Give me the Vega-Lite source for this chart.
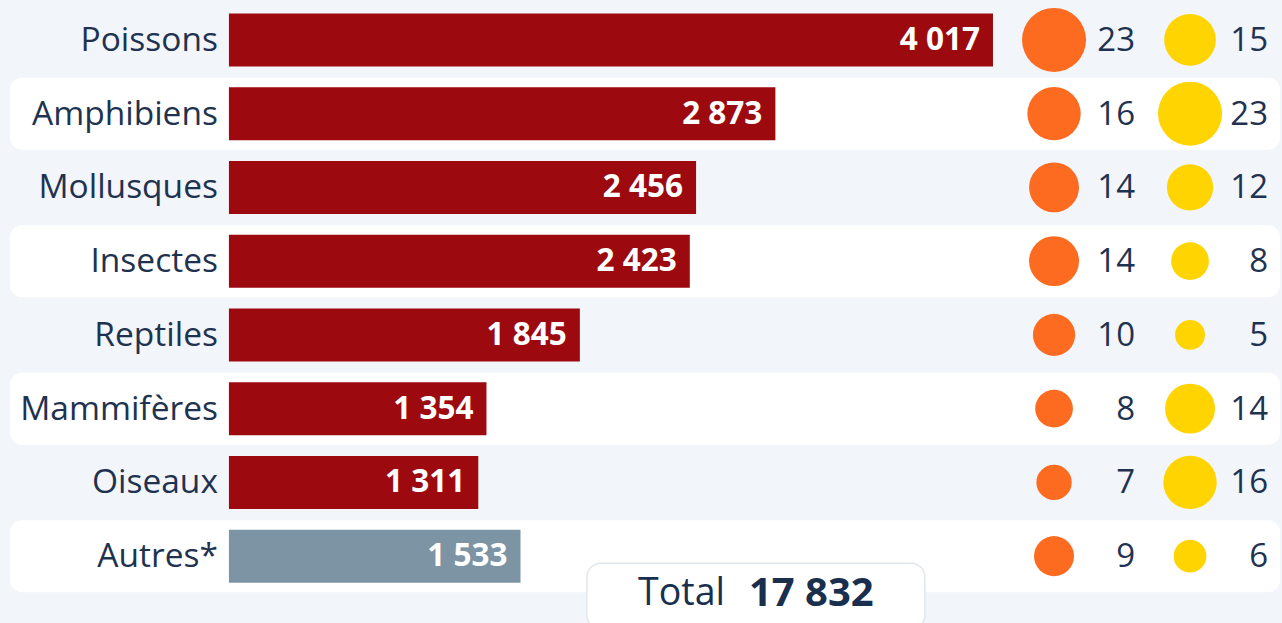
{
  "$schema": "https://vega.github.io/schema/vega-lite/v6.json",
  "autosize": {"type": "none"},
  "width": 1270,
  "height": 590,
  "padding": {"left": 10, "top": 3, "right": 2, "bottom": 30},
  "background": "#f2f5f9",
  "config": {
    "view": {"stroke": null},
    "text": {"font": "Open Sans"},
    "locale": {"number": {"decimal": ",", "thousands": " ", "grouping": [3], "currency": ["", " €"]}}
  },
  "data": {
    "values": [
      {"cat": "Poissons", "total": 4017, "v1": 23, "v2": 15},
      {"cat": "Amphibiens", "total": 2873, "v1": 16, "v2": 23},
      {"cat": "Mollusques", "total": 2456, "v1": 14, "v2": 12},
      {"cat": "Insectes", "total": 2423, "v1": 14, "v2": 8},
      {"cat": "Reptiles", "total": 1845, "v1": 10, "v2": 5},
      {"cat": "Mammifères", "total": 1354, "v1": 8, "v2": 14},
      {"cat": "Oiseaux", "total": 1311, "v1": 7, "v2": 16},
      {"cat": "Autres*", "total": 1533, "v1": 9, "v2": 6}
    ]
  },
  "encoding": {
    "y": {
      "field": "cat",
      "type": "nominal",
      "axis": null,
      "scale": {
        "domain": ["Poissons", "Amphibiens", "Mollusques", "Insectes", "Reptiles", "Mammifères", "Oiseaux", "Autres*"],
        "paddingInner": 0,
        "paddingOuter": 0
      }
    }
  },
  "layer": [
    {
      "transform": [{"filter": {"field": "cat", "oneOf": ["Amphibiens", "Insectes", "Mammifères", "Autres*"]}}],
      "mark": {"type": "rect", "fill": "#ffffff", "cornerRadius": 12, "height": 72},
      "encoding": {
        "x": {"datum": -1151, "type": "quantitative", "axis": null, "scale": {"domain": [-1151, 5526], "nice": false, "zero": false}},
        "x2": {"datum": 5526}
      }
    },
    {
      "mark": {"type": "bar", "height": 53},
      "encoding": {
        "x": {"field": "total", "type": "quantitative"},
        "x2": {"datum": 0},
        "color": {
          "condition": {"test": "datum.cat === 'Autres*'", "value": "#7c94a4"},
          "value": "#9c0a10"
        }
      }
    },
    {
      "mark": {"type": "text", "align": "right", "baseline": "middle", "dx": -13, "dy": 1, "fontSize": 31.5, "fontWeight": "bold", "color": "#ffffff"},
      "encoding": {
        "x": {"field": "total", "type": "quantitative"},
        "text": {"field": "total", "type": "quantitative", "format": ",d"}
      }
    },
    {
      "mark": {"type": "text", "align": "right", "baseline": "middle", "dx": -11, "dy": 1, "fontSize": 33.5, "color": "#1f3350"},
      "encoding": {
        "x": {"datum": 0, "type": "quantitative"},
        "text": {"field": "cat"}
      }
    },
    {
      "mark": {"type": "point", "shape": "circle", "filled": true, "opacity": 1, "color": "#fd6b21"},
      "encoding": {
        "x": {"datum": 4338, "type": "quantitative"},
        "size": {"field": "v1", "type": "quantitative", "legend": null, "scale": {"domain": [0, 23], "range": [0, 4096]}}
      }
    },
    {
      "mark": {"type": "point", "shape": "circle", "filled": true, "opacity": 1, "color": "#ffd400"},
      "encoding": {
        "x": {"datum": 5053, "type": "quantitative"},
        "size": {"field": "v2", "type": "quantitative", "legend": null, "scale": {"domain": [0, 23], "range": [0, 4096]}}
      }
    },
    {
      "mark": {"type": "text", "align": "right", "baseline": "middle", "dy": 1, "fontSize": 33, "color": "#1f3350"},
      "encoding": {
        "x": {"datum": 4764, "type": "quantitative"},
        "text": {"field": "v1", "type": "quantitative"}
      }
    },
    {
      "mark": {"type": "text", "align": "right", "baseline": "middle", "dy": 1, "fontSize": 33, "color": "#1f3350"},
      "encoding": {
        "x": {"datum": 5463, "type": "quantitative"},
        "text": {"field": "v2", "type": "quantitative"}
      }
    },
    {
      "data": {"values": [{"label": "Total", "value": 17832}]},
      "layer": [
        {
          "mark": {"type": "bar", "height": 66, "yOffset": 40, "cornerRadius": 14, "fill": "#ffffff", "stroke": "#e2e7ee", "strokeWidth": 1.5},
          "encoding": {
            "y": {"datum": "Autres*"},
            "x": {"datum": 1882, "type": "quantitative"},
            "x2": {"datum": 3659}
          }
        },
        {
          "mark": {"type": "text", "align": "right", "baseline": "middle", "dx": -12, "dy": 38, "fontSize": 37.5, "color": "#1a2f4e"},
          "encoding": {
            "y": {"datum": "Autres*"},
            "x": {"datum": 2671, "type": "quantitative"},
            "text": {"field": "label"}
          }
        },
        {
          "mark": {"type": "text", "align": "left", "baseline": "middle", "dx": 12, "dy": 38, "fontSize": 40, "fontWeight": "bold", "color": "#1a2f4e"},
          "encoding": {
            "y": {"datum": "Autres*"},
            "x": {"datum": 2671, "type": "quantitative"},
            "text": {"field": "value", "type": "quantitative", "format": ",d"}
          }
        }
      ]
    }
  ]
}
